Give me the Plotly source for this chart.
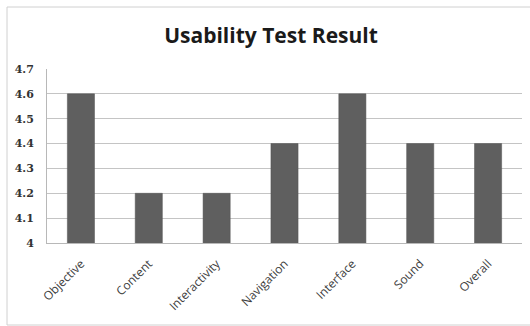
import plotly.graph_objects as go

categories = ["Objective", "Content", "Interactivity", "Navigation", "Interface", "Sound", "Overall"]
scores = [4.6, 4.2, 4.2, 4.4, 4.6, 4.4, 4.4]
y_ticks = [4.0, 4.1, 4.2, 4.3, 4.4, 4.5, 4.6, 4.7]
y_tick_labels = ["4", "4.1", "4.2", "4.3", "4.4", "4.5", "4.6", "4.7"]

W, H = 530, 326
L, R, T, B = 47, 8, 69, 83

fig = go.Figure(
    go.Bar(
        x=categories,
        y=scores,
        marker=dict(color="#5f5f5f", line=dict(color="#555555", width=0.5)),
        width=0.4,
    )
)

# chart frame: top, left and bottom edges (the right edge runs off the page)
pw, ph = W - L - R, H - T - B
fx0, fx1 = (7 - L) / pw, (530 - L) / pw
fy0, fy1 = (H - B - 325) / ph, (H - B - 7) / ph
for x0, y0, x1, y1 in [(fx0, fy1, fx1, fy1), (fx0, fy0, fx0, fy1), (fx0, fy0, fx1, fy0)]:
    fig.add_shape(
        type="line", xref="paper", yref="paper",
        x0=x0, y0=y0, x1=x1, y1=y1,
        line=dict(color="#d0d0d0", width=1), layer="below",
    )

fig.update_layout(
    width=W, height=H,
    margin=dict(l=L, r=R, t=T, b=B),
    paper_bgcolor="white", plot_bgcolor="white",
    showlegend=False,
    title=dict(
        text="<b>Usability Test Result</b>",
        x=271 / W, xref="container", xanchor="center",
        y=1 - 36 / H, yref="container", yanchor="middle",
        font=dict(family="Open Sans", size=21, color="#1a1a1a"),
    ),
    bargap=0.6,
)

fig.update_xaxes(
    tickangle=-45,
    tickfont=dict(family="Open Sans", size=12, color="#404040"),
    showline=True, linecolor="#b8b8b8", linewidth=1,
    ticks="", showgrid=False, ticklabelstandoff=8,
)
fig.update_yaxes(
    range=[4.0, 4.7],
    tickvals=y_ticks, ticktext=y_tick_labels,
    tickfont=dict(family="DejaVu Serif", size=11, color="#333333", weight="bold"),
    showline=True, linecolor="#b8b8b8", linewidth=1,
    showgrid=True, gridcolor="#c4c4c4", gridwidth=1,
    ticks="", zeroline=False, ticklabelstandoff=10,
)

fig.write_html("out.html")
